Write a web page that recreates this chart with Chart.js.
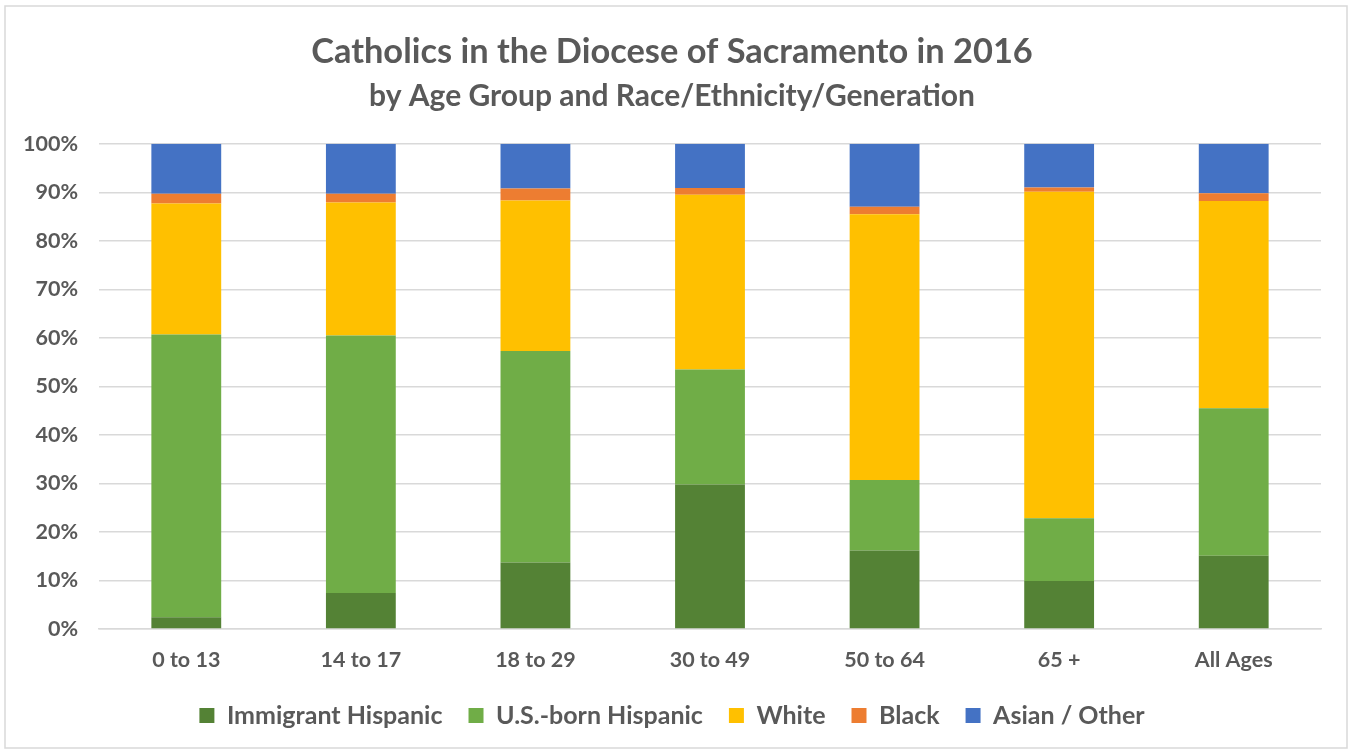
<!DOCTYPE html>
<html>
<head>
<meta charset="utf-8">
<title>Catholics in the Diocese of Sacramento in 2016</title>
<script src="https://cdn.jsdelivr.net/npm/chart.js"></script>
<style>
  html, body { margin: 0; padding: 0; background: #fff; }
  #wrap { width: 1351px; height: 751px; position: relative; }
</style>
</head>
<body>
<div id="wrap"><canvas id="c" width="1351" height="751"></canvas></div>
<script>
// age groups on the x axis
const ageGroups = ['0 to 13', '14 to 17', '18 to 29', '30 to 49', '50 to 64', '65 +', 'All Ages'];

// share of each group, percent
const immigrantHispanic = [2.4, 7.4, 13.7, 29.8, 16.2, 9.9, 15.1];
const usBornHispanic    = [58.3, 53.1, 43.6, 23.7, 14.5, 12.9, 30.4];
const white             = [27.0, 27.4, 31.0, 36.0, 54.8, 67.3, 42.7];
const black             = [2.0, 1.8, 2.5, 1.4, 1.5, 0.9, 1.6];
const asianOther        = [10.3, 10.3, 9.2, 9.1, 13.0, 9.0, 10.2];

const yTicks = [0, 10, 20, 30, 40, 50, 60, 70, 80, 90, 100];

const textColor = '#595959';
const gridColor = '#d9d9d9';
const fontFamily = 'Lato, "Open Sans", sans-serif';

// light grey frame round the whole chart
const frame = {
  id: 'frame',
  beforeDraw(chart) {
    const ctx = chart.ctx;
    ctx.save();
    ctx.fillStyle = '#fff';
    ctx.fillRect(0, 0, chart.width, chart.height);
    ctx.strokeStyle = gridColor;
    ctx.lineWidth = 1.5;
    ctx.strokeRect(5, 6, 1342, 742);
    ctx.restore();
  }
};

function ds(label, data, color) {
  return { label, data, backgroundColor: color, borderWidth: 0, barPercentage: 0.4, categoryPercentage: 1 };
}

new Chart(document.getElementById('c'), {
  type: 'bar',
  data: {
    labels: ageGroups,
    datasets: [
      ds('Immigrant Hispanic', immigrantHispanic, '#548235'),
      ds('U.S.-born Hispanic', usBornHispanic, '#70ad47'),
      ds('White', white, '#ffc000'),
      ds('Black', black, '#ed7d31'),
      ds('Asian / Other', asianOther, '#4472c4')
    ]
  },
  options: {
    responsive: false,
    animation: false,
    layout: { padding: { left: 23, right: 30, top: 23, bottom: 13 } },
    scales: {
      x: {
        stacked: true,
        afterFit: s => { s.height = 48; },
        grid: { display: false, drawTicks: false },
        border: { display: true, color: gridColor, width: 1.5 },
        ticks: { color: textColor, font: { family: fontFamily, size: 21.5, weight: 'bold' }, padding: 18 }
      },
      y: {
        stacked: true,
        min: 0,
        max: 100,
        afterBuildTicks: s => { s.ticks = yTicks.map(v => ({ value: v })); },
        afterFit: s => { s.width = 76; },
        grid: { color: gridColor, lineWidth: 1.5, drawTicks: false },
        border: { display: false },
        ticks: {
          color: textColor,
          font: { family: fontFamily, size: 21.5, weight: 'bold' },
          padding: 21,
          callback: v => v + '%'
        }
      }
    },
    plugins: {
      title: {
        display: true,
        text: 'Catholics in the Diocese of Sacramento in 2016',
        color: textColor,
        font: { family: fontFamily, size: 34.4, weight: 'bold' },
        padding: { top: 8, bottom: 6 }
      },
      subtitle: {
        display: true,
        text: 'by Age Group and Race/Ethnicity/Generation',
        color: textColor,
        font: { family: fontFamily, size: 30, weight: 'bold' },
        padding: { top: 0, bottom: 29.5 }
      },
      legend: {
        position: 'bottom',
        labels: {
          color: textColor,
          font: { family: fontFamily, size: 25, weight: 'bold' },
          boxWidth: 15,
          boxHeight: 15,
          padding: 26
        }
      },
      tooltip: { enabled: false }
    }
  },
  plugins: [frame]
});
</script>
</body>
</html>
